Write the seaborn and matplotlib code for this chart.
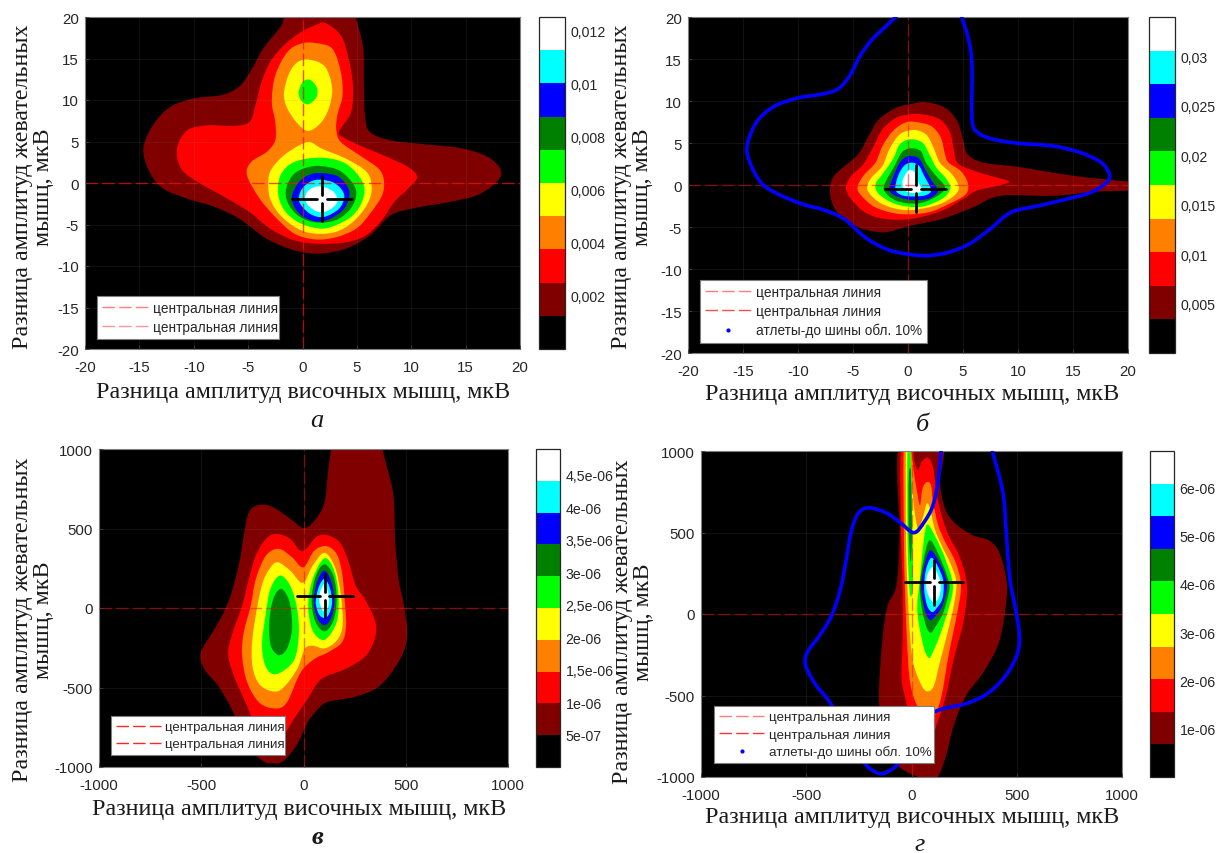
# Four density maps with a stepped colour scale
import matplotlib
matplotlib.use("Agg")
import matplotlib.pyplot as plt
import numpy as np
import seaborn as sns
from matplotlib.cm import ScalarMappable
from matplotlib.colors import BoundaryNorm, ListedColormap
from matplotlib.lines import Line2D
from matplotlib.patches import PathPatch
from matplotlib.path import Path

# Band colours, lowest level first
level_colors = ["#000000", "#800000", "#ff0000", "#ff8000", "#ffff00",
                "#00ff00", "#008000", "#0000ff", "#00ffff", "#ffffff"]

# Contour outlines (x, y in data units)
# Panel a
a_band1 = [(-2.03,18.8),(-3.61,16.2),(-4.72,13.6),(-5.83,11.6),(-7.42,10.6),(-9.95,10.2),(-12.17,9.16),(-13.76,6.95),(-14.64,4.14),(-14.07,1.33),(-12.8,-0.68),(-10.59,-1.89),(-8.05,-2.89),(-5.83,-4.3),(-3.3,-6.71),(-0.76,-8.11),(1.46,-8.51),(3.99,-7.91),(6.21,-6.31),(8.11,-3.9),(10.33,-3.01),(13.5,-2.29),(16.36,-1.29),(18.26,0.92),(17.3,2.93),(14.77,4.14),(11.28,4.66),(8.11,5.14),(6.21,6.14),(5.74,8.15),(5.64,12.17),(5.58,16.2),(4.94,19.8),(4.5,22),(-0.9,21)]
a_band2 = [(2.09,19.28),(3.52,17.79),(4.25,14.98),(4.63,11.77),(4.47,8.55),(3.36,6.14),(3.99,5.34),(5.58,4.34),(7.8,3.13),(9.7,1.93),(10.55,0.72),(9.7,-0.68),(8.43,-2.29),(7.16,-4.7),(5.58,-6.51),(3.68,-7.19),(1.46,-7.31),(-0.76,-6.91),(-2.98,-5.5),(-4.88,-3.49),(-7.42,-1.49),(-9.64,0.12),(-11.16,1.73),(-11.54,4.14),(-10.59,6.35),(-8.68,6.95),(-6.47,6.87),(-4.88,7.35),(-4.25,9.76),(-3.77,12.17),(-2.98,14.58),(-1.71,16.59),(-0.13,18.19),(1.3,19.08)]
a_band3 = [(1.14,16.87),(2.73,16.19),(3.52,13.37),(3.68,10.56),(3.2,8.15),(3.11,6.35),(3.52,4.94),(5.26,3.33),(7.0,1.73),(7.48,0.32),(7.32,-1.49),(6.21,-3.69),(4.94,-5.5),(3.04,-6.55),(1.14,-6.79),(-0.76,-6.1),(-2.5,-4.1),(-3.93,-1.89),(-5.1,0.92),(-4.72,2.53),(-3.3,3.73),(-2.5,5.14),(-2.5,7.35),(-2.82,9.76),(-2.5,12.97),(-1.39,15.78),(-0.13,16.79)]
a_band4_top = [(0.67,14.86),(2.09,13.98),(2.73,11.37),(2.41,8.96),(1.62,7.15),(0.51,6.27),(-0.44,7.15),(-1.39,8.96),(-1.71,10.76),(-1.24,13.17),(-0.44,14.58)]
a_band4_low = [(0.67,4.94),(1.77,4.14),(3.99,2.93),(5.9,1.33),(6.37,-0.68),(5.9,-2.69),(4.63,-4.7),(3.04,-5.9),(1.14,-6.1),(-0.44,-5.5),(-2.03,-3.9),(-2.98,-1.89),(-3.14,0.32),(-2.82,1.73),(-1.71,3.33),(-0.29,4.54)]
a_band5_top = [(0.67,12.45),(1.3,11.57),(1.3,10.36),(0.51,9.48),(-0.13,9.96),(-0.35,10.96),(0.03,12.17)]
a_band5_low = [(1.68,3.05),(3.99,2.33),(5.52,0.12),(5.58,-1.89),(4.63,-3.9),(3.04,-5.1),(1.68,-5.5),(-0.13,-4.9),(-1.55,-3.49),(-2.22,-1.49),(-2.03,0.92),(-0.76,2.53)]
a_band6 = [(1.68,2.05),(3.52,1.41),(4.88,-0.68),(4.63,-2.69),(3.36,-4.3),(1.68,-4.78),(0.03,-4.3),(-1.14,-2.89),(-1.55,-1.08),(-0.92,0.92),(0.25,1.81)]
a_band7 = [(1.68,1.2),(3.36,0.72),(4.31,-1.08),(3.84,-3.09),(2.41,-4.38),(1.14,-4.62),(-0.29,-3.69),(-0.98,-1.89),(-0.44,-0.08),(0.51,0.92)]
a_band8 = [(1.68,0.4),(3.04,-0.08),(3.84,-1.49),(3.36,-3.09),(1.93,-4.1),(0.67,-3.69),(-0.29,-2.29),(-0.13,-0.88),(0.67,0.12)]
a_band9 = [(1.68,-0.4),(2.88,-1.08),(3.2,-2.29),(2.41,-3.29),(1.46,-3.49),(0.51,-2.69),(0.25,-1.69),(0.67,-0.76)]

# Panel b
b_band1 = [(1.63,9.87),(3.36,9.2),(4.47,7.62),(5.0,5.44),(5.41,3.66),(6.84,2.67),(9.99,2.16),(13.15,1.48),(16.31,0.89),(20,0.42),(21.05,0.38),(21.05,-0.69),(20,-0.69),(16.94,-0.81),(13.15,-1.29),(8.41,-1.29),(5.89,-2.67),(3.05,-4.06),(0.21,-4.85),(-2.32,-5.64),(-4.85,-4.85),(-6.43,-3.26),(-7.06,-1.29),(-6.9,0.69),(-6.11,1.88),(-4.53,3.66),(-3.58,5.84),(-2.64,7.82),(-1.06,9.2),(0.52,9.71)]
b_band2 = [(1.31,8.41),(2.89,7.82),(3.84,6.23),(4.15,4.25),(4.47,2.67),(5.57,1.88),(7.47,1.09),(9.2,0.42),(8.1,-0.1),(6.2,-0.69),(5.0,-1.68),(3.05,-3.07),(0.52,-3.99),(-2.0,-4.06),(-3.9,-3.26),(-5.16,-1.68),(-5.64,-0.3),(-5.16,1.09),(-4.06,2.47),(-3.11,4.65),(-2.32,6.63),(-1.06,8.01),(0.21,8.41)]
b_band3 = [(0.68,7.5),(2.1,7.02),(2.98,5.64),(3.36,3.66),(3.68,2.67),(4.78,1.68),(5.42,0.3),(5.26,-1.09),(3.68,-2.28),(1.78,-3.27),(-0.74,-3.46),(-2.95,-2.67),(-4.22,-1.29),(-4.59,-0.3),(-4.06,1.09),(-2.95,2.67),(-2.32,4.65),(-1.37,6.43),(-0.27,7.42)]
b_band4 = [(0.52,6.55),(1.63,6.03),(2.26,4.65),(2.89,2.67),(3.99,1.29),(4.63,-0.3),(3.99,-1.48),(2.42,-2.48),(-0.11,-3.0),(-2.32,-2.28),(-3.65,-0.69),(-3.43,0.69),(-2.32,2.28),(-1.69,4.25),(-0.74,6.03)]
b_band5 = [(0.21,5.44),(1.31,5.05),(1.94,3.66),(2.57,2.08),(3.52,0.69),(3.84,-0.49),(3.05,-1.68),(1.15,-2.6),(-1.06,-2.3),(-2.64,-1.09),(-2.95,0.1),(-2.32,1.29),(-1.37,3.07),(-0.74,4.85)]
b_band6 = [(0.21,4.37),(1.15,4.06),(1.63,2.67),(2.42,1.29),(3.36,-0.3),(2.42,-1.49),(0.84,-2.2),(-1.06,-1.88),(-2.16,-0.69),(-2.0,0.49),(-1.22,2.28),(-0.58,3.86)]
b_band7 = [(0.21,3.46),(1.0,3.15),(1.63,1.68),(2.16,0.49),(2.73,-0.69),(1.94,-1.6),(0.52,-1.8),(-0.74,-1.48),(-1.69,-0.69),(-1.37,0.89),(-0.74,2.67),(-0.27,3.26)]
b_band8 = [(0.3,2.67),(1.0,2.28),(1.47,1.09),(2.1,-0.57),(1.63,-1.21),(0.52,-1.37),(-0.58,-1.21),(-1.15,-0.49),(-0.9,1.09),(-0.36,2.28)]
b_band9 = [(0.21,1.8),(0.68,1.4),(0.9,0.38),(1.31,-0.69),(0.52,-0.97),(-0.36,-0.57),(-0.49,0.49),(-0.17,1.4)]
b_curve = [(-0.58,20.68),(-2.0,18.9),(-3.27,17.31),(-4.37,15.34),(-5.32,12.96),(-6.43,11.38),(-8.0,10.78),(-9.9,10.39),(-12.11,9.4),(-13.69,7.62),(-14.57,5.05),(-14.48,3.07),(-13.37,0.3),(-11.79,-1.09),(-9.58,-2.28),(-7.69,-2.95),(-5.79,-4.06),(-3.9,-6.23),(-2.0,-7.62),(-0.11,-8.21),(1.78,-8.41),(3.68,-8.01),(5.57,-7.02),(7.47,-5.24),(9.36,-3.26),(11.89,-2.47),(14.41,-1.68),(16.62,-0.89),(18.05,0.3),(18.3,1.29),(17.57,2.67),(15.68,3.86),(13.15,4.65),(9.99,4.97),(7.78,5.44),(6.36,6.23),(5.82,7.82),(5.82,14.15),(5.51,17.31),(4.72,20.68)]

# Panel c
c_band1 = [(137,1023),(120,855),(103,666),(61,561),(3,502),(-65,561),(-149,634),(-216,649),(-267,603),(-292,456),(-317,267),(-368,36),(-435,-132),(-502,-279),(-485,-384),(-418,-489),(-351,-637),(-267,-868),(-199,-962),(-149,-977),(-98,-962),(-31,-857),(19,-721),(70,-637),(120,-590),(255,-557),(373,-489),(473,-321),(507,-174),(491,15),(465,183),(448,435),(440,708),(406,897),(381,1023),(370,1120),(150,1120)]
c_band2 = [(-132,466),(-65,435),(-6,357),(61,445),(112,460),(179,410),(221,288),(255,141),(297,61),(347,-69),(352,-174),(305,-300),(204,-384),(87,-447),(19,-574),(-48,-700),(-98,-794),(-166,-805),(-233,-742),(-283,-595),(-334,-447),(-368,-300),(-351,-174),(-300,15),(-267,183),(-233,330),(-183,435)]
c_band3 = [(-120,372),(-56,319),(-1,256),(53,361),(112,389),(162,340),(188,225),(201,57),(208,-111),(188,-216),(120,-279),(53,-321),(-14,-405),(-82,-595),(-140,-632),(-216,-595),(-275,-468),(-300,-300),(-292,-153),(-258,15),(-233,183),(-183,330)]
c_band4 = [(-127,288),(-65,235),(-4,158),(45,267),(102,347),(154,256),(183,78),(191,-111),(162,-206),(103,-254),(45,-237),(6,-258),(-31,-384),(-98,-500),(-149,-525),(-216,-479),(-250,-363),(-250,-195),(-225,15),(-199,162),(-166,246)]
c_band5_left = [(-115,204),(-65,141),(-31,-6),(-23,-174),(-48,-332),(-132,-416),(-183,-374),(-203,-237),(-186,-48),(-162,120)]
c_band5_right = [(103,313),(150,235),(171,78),(162,-90),(103,-200),(45,-143),(23,15),(45,183)]
c_band6_left = [(-107,120),(-68,36),(-56,-132),(-82,-258),(-124,-296),(-162,-227),(-166,-69),(-145,67)]
c_band6_right = [(102,275),(146,204),(162,57),(146,-80),(102,-147),(56,-80),(40,57),(61,204)]
c_band7 = [(102,235),(137,162),(151,36),(133,-69),(102,-107),(70,-69),(50,36),(66,162)]
c_band8 = [(102,183),(128,130),(140,36),(125,-38),(102,-63),(75,-38),(60,36),(74,130)]
c_band9 = [(102,151),(120,99),(125,36),(112,-17),(95,-17),(78,36),(81,99)]

# Panel d
d_band1 = [(-56,1035),(-56,503),(-72,176),(-113,53),(-138,-151),(-155,-499),(-138,-663),(-89,-888),(-22,-969),(61,-1010),(118,-1010),(160,-888),(201,-683),(260,-499),(342,-356),(416,-172),(450,74),(450,217),(416,380),(367,452),(292,483),(209,554),(160,646),(135,810),(143,1035)]
d_band2 = [(-49,1035),(-49,462),(-42,155),(-42,-151),(-47,-397),(-22,-560),(11,-806),(85,-806),(118,-683),(160,-519),(201,-274),(243,-70),(262,94),(259,217),(226,360),(176,483),(143,605),(118,748),(102,902),(77,959),(47,932),(31,881),(11,953),(6,1035)]
d_band3 = [(-36,1035),(-36,462),(-31,155),(-22,-151),(-9,-397),(19,-540),(68,-632),(110,-622),(143,-499),(176,-254),(218,12),(235,176),(209,319),(160,442),(127,544),(102,687),(93,789),(73,810),(52,769),(40,667),(24,769),(11,871),(-6,1035)]
d_band4 = [(-26,1035),(-26,462),(-19,155),(-6,-151),(11,-315),(52,-448),(80,-474),(107,-438),(135,-294),(168,-131),(201,53),(213,196),(185,309),(143,421),(110,523),(90,636),(73,678),(52,585),(31,524),(11,667),(-1,871),(-9,1035)]
d_band5_strip = [(-19,1035),(-19,503),(-14,254),(-6,112),(6,155),(6,400),(1,667),(-6,1035)]
d_band5 = [(79,548),(118,462),(160,339),(197,176),(176,33),(135,-131),(102,-233),(83,-270),(60,-213),(36,-70),(27,53),(40,217),(52,380),(64,503)]
d_band6_strip = [(-12,871),(-14,667),(-12,462),(-4,319),(2,462),(1,667),(-2,871)]
d_band6 = [(85,452),(127,370),(168,237),(180,155),(152,12),(113,-80),(90,-115),(68,-70),(47,53),(40,176),(56,319)]
d_band7 = [(90,391),(127,329),(160,237),(168,155),(144,43),(110,-18),(90,-39),(68,2),(52,94),(47,196),(65,319)]
d_band8 = [(94,344),(127,288),(152,196),(147,94),(118,33),(97,12),(74,53),(60,155),(68,268)]
d_band9 = [(102,288),(127,237),(140,166),(127,94),(102,74),(80,115),(69,176),(77,247)]
d_curve = [(143,1035),(127,830),(102,667),(60,564),(11,499),(-56,564),(-122,622),(-205,652),(-254,616),(-287,503),(-312,319),(-337,155),(-379,-8),(-436,-131),(-494,-233),(-503,-315),(-453,-438),(-379,-560),(-238,-888),(-172,-969),(-122,-973),(-56,-908),(44,-724),(110,-601),(259,-550),(359,-489),(442,-387),(500,-254),(513,-131),(491,53),(467,217),(450,503),(434,748),(384,1000),(370,1060)]

# Band level for each outline of each panel
a_bands = [(1,a_band1),(2,a_band2),(3,a_band3),(4,a_band4_top),(4,a_band4_low),(5,a_band5_top),(5,a_band5_low),(6,a_band6),(7,a_band7),(8,a_band8),(9,a_band9)]
b_bands = [(1,b_band1),(2,b_band2),(3,b_band3),(4,b_band4),(5,b_band5),(6,b_band6),(7,b_band7),(8,b_band8),(9,b_band9)]
c_bands = [(1,c_band1),(2,c_band2),(3,c_band3),(4,c_band4),(5,c_band5_left),(5,c_band5_right),(6,c_band6_left),(6,c_band6_right),(7,c_band7),(8,c_band8),(9,c_band9)]
d_bands = [(1,d_band1),(2,d_band2),(3,d_band3),(4,d_band4),(5,d_band5_strip),(6,d_band6_strip),(5,d_band5),(6,d_band6),(7,d_band7),(8,d_band8),(9,d_band9)]

# Peak mean and spread: centre, x ends, y ends
a_cross = (1.78, -1.89, -0.98, 4.56, -4.62, 0.8)
b_cross = (0.71, -0.46, -2.1, 3.46, -3.27, 2.35)
c_cross = (103, 78, -34, 243, -59, 214)
d_cross = (108.5, 194, -29, 246, 53, 329)

# Colour scale tops and ticks
a_scale_top = 0.0125
b_scale_top = 0.034
c_scale_top = 4.9e-06
d_scale_top = 6.75e-06
a_ticks = [0.002, 0.004, 0.006, 0.008, 0.01, 0.012]
b_ticks = [0.005, 0.01, 0.015, 0.02, 0.025, 0.03]
c_ticks = [5e-07, 1e-06, 1.5e-06, 2e-06, 2.5e-06, 3e-06, 3.5e-06, 4e-06, 4.5e-06]
d_ticks = [1e-06, 2e-06, 3e-06, 4e-06, 5e-06, 6e-06]
a_tick_labels = ["0,002", "0,004", "0,006", "0,008", "0,01", "0,012"]
b_tick_labels = ["0,005", "0,01", "0,015", "0,02", "0,025", "0,03"]
c_tick_labels = ["5e-07", "1e-06", "1,5e-06", "2e-06", "2,5e-06", "3e-06", "3,5e-06", "4e-06", "4,5e-06"]
d_tick_labels = ["1e-06", "2e-06", "3e-06", "4e-06", "5e-06", "6e-06"]

small_ticks = [-20, -15, -10, -5, 0, 5, 10, 15, 20]
big_ticks = [-1000, -500, 0, 500, 1000]

xlabel_text = "Разница амплитуд височных мышц, мкВ"
ylabel_text = "Разница амплитуд жевательных\nмышц, мкВ"
line_label = "центральная линия"
dot_label = "атлеты-до шины обл. 10%"

W, H = 1216, 854
sns.set_style("white")
plt.rcParams["font.family"] = ["Liberation Sans", "DejaVu Sans"]
plt.rcParams["axes.unicode_minus"] = False
palette = sns.color_palette(level_colors)
fig = plt.figure(figsize=(W / 100, H / 100), dpi=100)


def rect(left, top, right, bottom):
    return [left / W, 1 - bottom / H, (right - left) / W, (bottom - top) / H]


def smooth_path(points, closed=True):
    # Catmull-Rom through the read points, written as Bezier segments
    p = np.array(points, dtype=float)
    n = len(p)
    verts = [p[0]]
    codes = [Path.MOVETO]
    for i in range(n if closed else n - 1):
        if closed:
            p0, p1, p2, p3 = p[i - 1], p[i], p[(i + 1) % n], p[(i + 2) % n]
        else:
            p0, p1, p2, p3 = p[max(i - 1, 0)], p[i], p[i + 1], p[min(i + 2, n - 1)]
        verts += [p1 + (p2 - p0) / 6, p2 - (p3 - p1) / 6, p2]
        codes += [Path.CURVE4] * 3
    return Path(verts, codes)


def hline(ax, x, y, **kws):
    sns.lineplot(x=x, y=y, ax=ax, estimator=None, sort=False, **kws)


def panel(ax_px, cbar_px, limits, ticks, bands, cross, scale_top, cb_ticks, cb_labels,
          line_alpha, legend_px, legend_alpha, curve=None, legend_size=9.8):
    ax = fig.add_axes(rect(*ax_px))
    ax.set_facecolor("black")
    for level, outline in bands:
        ax.add_patch(PathPatch(smooth_path(outline), facecolor=palette[level], edgecolor="none", zorder=1))

    dash = (0, (9, 3))
    hline(ax, [limits[0], limits[1]], [0, 0], color="red", alpha=line_alpha, linewidth=1, linestyle=dash, label=line_label)
    hline(ax, [0, 0], [limits[0], limits[1]], color="red", alpha=line_alpha, linewidth=1, linestyle=dash, label=line_label)

    if curve is not None:
        ax.add_patch(PathPatch(smooth_path(curve, closed=False), facecolor="none", edgecolor="#0000ff", linewidth=2.6, zorder=3))

    # Mean with spread, the middle stays open
    cx, cy, x0, x1, y0, y1 = cross
    gap_x = 0.105 * (x1 - x0) / 2 + (limits[1] - limits[0]) * 0.004
    gap_y = (y1 - y0) * 0.09
    for xs, ys in [([x0, cx - gap_x], [cy, cy]), ([cx + gap_x, x1], [cy, cy]),
                   ([cx, cx], [y0, cy - gap_y]), ([cx, cx], [cy + gap_y, y1])]:
        hline(ax, xs, ys, color="black", linewidth=2, zorder=4, legend=False)

    ax.set_xlim(limits)
    ax.set_ylim(limits)
    ax.set_xticks(ticks)
    ax.set_yticks(ticks)
    ax.set_xlabel("")
    ax.set_ylabel("")
    ax.grid(True, color="#808080", alpha=0.15, linewidth=0.6)
    ax.set_axisbelow(False)
    ax.tick_params(direction="in", length=3, width=0.6, color="#404040", labelsize=10.8,
                   labelcolor="#262626", left=True, bottom=True)
    ax.tick_params(axis="x", pad=8)
    ax.tick_params(axis="y", pad=4.5)
    for spine in ax.spines.values():
        spine.set_color("#808080")
        spine.set_linewidth(0.8)

    handles, labels = ax.get_legend_handles_labels()
    if curve is not None:
        handles.append(Line2D([], [], color="#0000ff", marker=".", markersize=4, linestyle="none"))
        labels.append(dot_label)
    lx0, ly0, lx1, ly1 = legend_px
    leg = ax.legend(handles, labels, loc="upper left", bbox_to_anchor=(lx0 / W, 1 - ly1 / H, (lx1 - lx0) / W, (ly1 - ly0) / H),
                    bbox_transform=fig.transFigure, borderaxespad=0, mode="expand", fontsize=legend_size,
                    fancybox=False, framealpha=1, edgecolor="#808080", labelspacing=0.36,
                    handlelength=3.4, handletextpad=0.35, borderpad=0.38)
    leg.get_frame().set_linewidth(0.8)
    leg.set_zorder(6)
    for line, alpha in zip(leg.get_lines(), legend_alpha):
        line.set_alpha(alpha)

    # Stepped colour scale
    cax = fig.add_axes(rect(*cbar_px))
    edges = np.linspace(0, scale_top, len(level_colors) + 1)
    mappable = ScalarMappable(norm=BoundaryNorm(edges, len(level_colors)), cmap=ListedColormap(palette))
    cb = fig.colorbar(mappable, cax=cax, ticks=cb_ticks, spacing="proportional")
    cb.ax.set_yticklabels(cb_labels)
    cb.ax.tick_params(direction="in", length=3, width=0.7, color="#262626", labelsize=10.2,
                      labelcolor="#262626", pad=4, right=True)
    cb.outline.set_edgecolor("#262626")
    cb.outline.set_linewidth(0.9)
    cb.minorticks_off()
    return ax


panel((85, 18, 520, 350), (539, 18, 565, 350), (-20, 20), small_ticks, a_bands, a_cross,
      a_scale_top, a_ticks, a_tick_labels, 0.7, (97, 297, 279, 338), [0.5, 0.42])
panel((688, 18, 1128, 354), (1149, 18, 1175, 354), (-20, 20), small_ticks, b_bands, b_cross,
      b_scale_top, b_ticks, b_tick_labels, 0.5, (700, 281, 927, 342), [0.5, 0.7], curve=b_curve)
panel((99, 450, 508, 768), (536, 450, 560, 768), (-1000, 1000), big_ticks, c_bands, c_cross,
      c_scale_top, c_ticks, c_tick_labels, 0.5, (111, 717, 285, 756), [0.85, 0.85], legend_size=9.5)
panel((701, 452, 1122, 778), (1150, 452, 1174, 778), (-1000, 1000), big_ticks, d_bands, d_cross,
      d_scale_top, d_ticks, d_tick_labels, 0.5, (714, 707, 934, 766), [0.5, 0.8], curve=d_curve, legend_size=9.6)

serif = "Liberation Serif"
for x, y, yl_x, yl_y in [(303, 393, 33, 187), (912, 395, 632, 187), (299, 810, 33, 620), (912, 818, 633, 622)]:
    fig.text(x / W, 1 - y / H, xlabel_text, family=serif, fontsize=17.3, ha="center", va="center", color="#1a1a1a")
    fig.text(yl_x / W, 1 - yl_y / H, ylabel_text, family=serif, fontsize=17.3, rotation=90, ha="center", va="center",
             linespacing=1.0, multialignment="center", color="#1a1a1a")

for x, y, s, w in [(317, 421, "а", "normal"), (922, 425, "б", "normal"), (317, 838, "в", "bold"), (920, 845, "г", "normal")]:
    fig.text(x / W, 1 - y / H, s, family=serif, style="italic", weight=w, fontsize=19, ha="center", va="center", color="#1a1a1a")

fig.savefig("out.png", dpi=100, facecolor="white")
